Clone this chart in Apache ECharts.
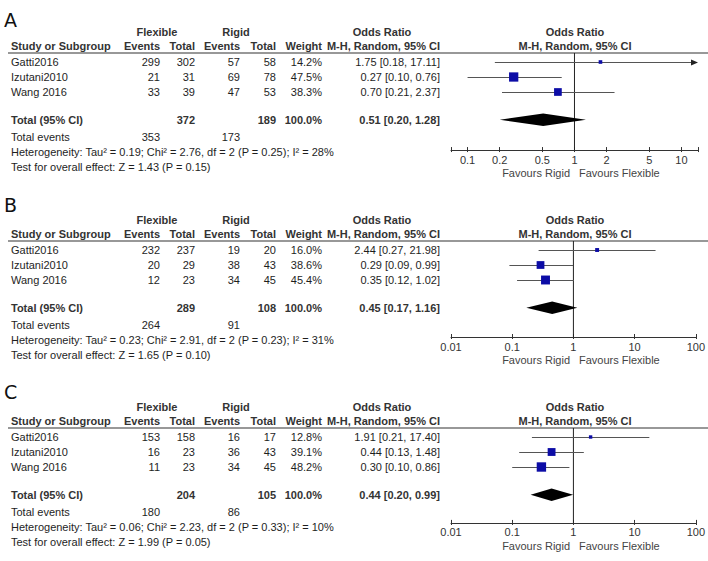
<!DOCTYPE html>
<html><head><meta charset="utf-8">
<script src="https://cdn.jsdelivr.net/npm/echarts@6/dist/echarts.min.js"></script>
<style>html,body{margin:0;padding:0;background:#fff}#c{width:708px;height:561px}</style>
</head><body><div id="c"></div>
<script>
// ---------------- DATA ----------------
const panelLabels = ['A', 'B', 'C'];
const studies = ['Gatti2016', 'Izutani2010', 'Wang 2016'];
const groupNames = ['Flexible', 'Rigid'];

// Panel A
const flexEventsA = [299, 21, 33];
const flexTotalA = [302, 31, 39];
const rigidEventsA = [57, 69, 47];
const rigidTotalA = [58, 78, 53];
const weightA = [14.2, 47.5, 38.3];
const orA = [1.75, 0.27, 0.70];
const loA = [0.18, 0.10, 0.21];
const hiA = [17.11, 0.76, 2.37];
const pooledA = [0.51, 0.20, 1.28];
const totalsA = [372, 189];
const totalEventsA = [353, 173];
const hetA = 'Heterogeneity: Tau² = 0.19; Chi² = 2.76, df = 2 (P = 0.25); I² = 28%';
const testA = 'Test for overall effect: Z = 1.43 (P = 0.15)';

// Panel B
const flexEventsB = [232, 20, 12];
const flexTotalB = [237, 29, 23];
const rigidEventsB = [19, 38, 34];
const rigidTotalB = [20, 43, 45];
const weightB = [16.0, 38.6, 45.4];
const orB = [2.44, 0.29, 0.35];
const loB = [0.27, 0.09, 0.12];
const hiB = [21.98, 0.99, 1.02];
const pooledB = [0.45, 0.17, 1.16];
const totalsB = [289, 108];
const totalEventsB = [264, 91];
const hetB = 'Heterogeneity: Tau² = 0.23; Chi² = 2.91, df = 2 (P = 0.23); I² = 31%';
const testB = 'Test for overall effect: Z = 1.65 (P = 0.10)';

// Panel C
const flexEventsC = [153, 16, 11];
const flexTotalC = [158, 23, 23];
const rigidEventsC = [16, 36, 34];
const rigidTotalC = [17, 43, 45];
const weightC = [12.8, 39.1, 48.2];
const orC = [1.91, 0.44, 0.30];
const loC = [0.21, 0.13, 0.10];
const hiC = [17.40, 1.48, 0.86];
const pooledC = [0.44, 0.20, 0.99];
const totalsC = [204, 105];
const totalEventsC = [180, 86];
const hetC = 'Heterogeneity: Tau² = 0.06; Chi² = 2.23, df = 2 (P = 0.33); I² = 10%';
const testC = 'Test for overall effect: Z = 1.99 (P = 0.05)';

const totalWeight = '100.0%';

// axis ticks (odds ratio scale)
const ticksA = [0.1, 0.2, 0.5, 1, 2, 5, 10];
const ticksBC = [0.01, 0.1, 1, 10, 100];
const axisRangeA = [0.07, 14.3];
const axisRangeBC = [0.01, 100];

// ---------------- BUILD ----------------
const panels = [
  {flexE: flexEventsA, flexT: flexTotalA, rigE: rigidEventsA, rigT: rigidTotalA, w: weightA, or: orA, lo: loA, hi: hiA, pooled: pooledA, totals: totalsA, tev: totalEventsA, het: hetA, test: testA, ticks: ticksA, range: axisRangeA},
  {flexE: flexEventsB, flexT: flexTotalB, rigE: rigidEventsB, rigT: rigidTotalB, w: weightB, or: orB, lo: loB, hi: hiB, pooled: pooledB, totals: totalsB, tev: totalEventsB, het: hetB, test: testB, ticks: ticksBC, range: axisRangeBC},
  {flexE: flexEventsC, flexT: flexTotalC, rigE: rigidEventsC, rigT: rigidTotalC, w: weightC, or: orC, lo: loC, hi: hiC, pooled: pooledC, totals: totalsC, tev: totalEventsC, het: hetC, test: testC, ticks: ticksBC, range: axisRangeBC}
];

// layout (pixels)
const layout = [
  {firstRowY: 62, axisRow: 5.87, letterDy: 33},
  {firstRowY: 250, axisRow: 5.8, letterDy: 36},
  {firstRowY: 437, axisRow: 5.73, letterDy: 36}
];
const ROW_H = 15, TOP_ROW = -0.6, TOTAL_ROW = 3.85;
const PLOT_LEFT = 451, PLOT_W = 247;
const FONT = "'Liberation Sans', Arial, sans-serif";
const TXT = '#1e1e1e', HDR = '#333';
const COL = {flexE: 160, flexT: 195, rigE: 240, rigT: 276, w: 322, or: 440};

const L10 = Math.log10;
const rowY = (p, r) => layout[p].firstRowY + r * ROW_H;

const grids = [], xAxes = [], yAxes = [], series = [], graphics = [];

function fmtOR(a, b, c) { return a.toFixed(2) + ' [' + b.toFixed(2) + ', ' + c.toFixed(2) + ']'; }
function txt(x, y, text, opt) {
  opt = opt || {};
  graphics.push({type: 'text', x: x, y: y, silent: true, style: {
    text: text, font: (opt.bold ? 'bold ' : '') + (opt.size || 11) + 'px ' + (opt.family || FONT),
    fill: opt.color || TXT, align: opt.align || 'left', verticalAlign: 'middle'}});
}

panels.forEach((P, p) => {
  const lay = layout[p];
  const top = rowY(p, TOP_ROW), bottom = rowY(p, lay.axisRow);
  const xmin = L10(P.range[0]), xmax = L10(P.range[1]);
  grids.push({left: PLOT_LEFT, width: PLOT_W, top: top, height: bottom - top});
  const tickVals = [xmin].concat(P.ticks.map(L10)).concat([xmax]);
  const labelVals = P.ticks.map(L10);
  const fmt = v => { const t = P.ticks.find(t => Math.abs(L10(t) - v) < 1e-6); return t === undefined ? '' : String(t); };
  xAxes.push({type: 'value', gridIndex: p, min: xmin, max: xmax, position: 'bottom',
    axisLine: {show: true, onZero: false, lineStyle: {color: '#333', width: 1}},
    axisTick: {show: true, inside: false, length: 2, customValues: tickVals, lineStyle: {color: '#333'}},
    axisLabel: {show: true, customValues: labelVals, formatter: fmt, margin: 4, fontSize: 11, fontFamily: FONT, color: '#333'},
    splitLine: {show: false}});
  xAxes.push({type: 'value', gridIndex: p, min: xmin, max: xmax, position: 'bottom',
    axisLine: {show: false, onZero: false},
    axisTick: {show: true, inside: true, length: 3, customValues: tickVals, lineStyle: {color: '#333'}},
    axisLabel: {show: false}, splitLine: {show: false}});
  yAxes.push({type: 'value', gridIndex: p, min: TOP_ROW, max: lay.axisRow, inverse: true, show: false});

  const xi = 2 * p;
  // line of no effect
  series.push({type: 'line', xAxisIndex: xi, yAxisIndex: p, data: [[0, TOP_ROW], [0, lay.axisRow]],
    symbol: 'none', silent: true, lineStyle: {color: '#222', width: 1}, z: 1});
  // studies
  const studyData = studies.map((s, i) => [L10(P.or[i]), L10(P.lo[i]), L10(P.hi[i]), i, P.w[i]]);
  series.push({type: 'custom', xAxisIndex: xi, yAxisIndex: p, data: studyData, silent: true, z: 3,
    encode: {x: 0, y: 3},
    renderItem: (params, api) => {
      const cs = params.coordSys;
      const x0 = cs.x, x1 = cs.x + cs.width;
      const c = api.coord([api.value(0), api.value(3)]);
      const lo = api.coord([api.value(1), api.value(3)]);
      const hi = api.coord([api.value(2), api.value(3)]);
      const y = Math.round(c[1]) + 0.5;
      const children = [];
      const lx = Math.max(lo[0], x0);
      let rx = Math.min(hi[0], x1);
      const clipR = hi[0] > x1;
      if (clipR) rx = x1 - 5;
      children.push({type: 'line', shape: {x1: lx, y1: y, x2: rx, y2: y}, style: {stroke: '#555', lineWidth: 1}});
      if (clipR) children.push({type: 'polygon', shape: {points: [[x1, y], [x1 - 7, y - 3], [x1 - 7, y + 3]]}, style: {fill: '#222'}});
      const s = 1.2 + 0.17 * api.value(4);
      children.push({type: 'rect', shape: {x: c[0] - s / 2, y: c[1] - s / 2, width: s, height: s}, style: {fill: '#0c0ca6'}});
      return {type: 'group', children: children};
    }});
  // pooled diamond
  series.push({type: 'custom', xAxisIndex: xi, yAxisIndex: p, silent: true, z: 3,
    encode: {x: 0, y: 3},
    data: [[L10(P.pooled[0]), L10(P.pooled[1]), L10(P.pooled[2]), TOTAL_ROW]],
    renderItem: (params, api) => {
      const c = api.coord([api.value(0), api.value(3)]);
      const lo = api.coord([api.value(1), api.value(3)]);
      const hi = api.coord([api.value(2), api.value(3)]);
      const h = 6.3;
      return {type: 'polygon', shape: {points: [[lo[0], c[1]], [c[0], c[1] - h], [hi[0], c[1]], [c[0], c[1] + h]]}, style: {fill: '#000'}};
    }});

  // ---- table text ----
  const lineY = rowY(p, TOP_ROW);
  graphics.push({type: 'line', silent: true, shape: {x1: 8, y1: lineY, x2: 708, y2: lineY}, style: {stroke: '#333', lineWidth: 1.2}});
  txt(4, lineY - lay.letterDy, panelLabels[p], {size: 19, family: "'DejaVu Sans', sans-serif", color: '#111'});
  const h1 = lineY - 21, h2 = lineY - 7;
  txt(157, h1, groupNames[0], {bold: true, color: HDR, align: 'center'});
  txt(236, h1, groupNames[1], {bold: true, color: HDR, align: 'center'});
  txt(382, h1, 'Odds Ratio', {bold: true, color: HDR, align: 'center'});
  txt(575, h1, 'Odds Ratio', {bold: true, color: HDR, align: 'center'});
  txt(11, h2, 'Study or Subgroup', {bold: true, color: HDR});
  txt(COL.flexE, h2, 'Events', {bold: true, color: HDR, align: 'right'});
  txt(COL.flexT, h2, 'Total', {bold: true, color: HDR, align: 'right'});
  txt(COL.rigE, h2, 'Events', {bold: true, color: HDR, align: 'right'});
  txt(COL.rigT, h2, 'Total', {bold: true, color: HDR, align: 'right'});
  txt(COL.w, h2, 'Weight', {bold: true, color: HDR, align: 'right'});
  txt(COL.or, h2, 'M-H, Random, 95% CI', {bold: true, color: HDR, align: 'right'});
  txt(575, h2, 'M-H, Random, 95% CI', {bold: true, color: HDR, align: 'center'});
  studies.forEach((s, i) => {
    const y = rowY(p, i);
    txt(11, y, s);
    txt(COL.flexE, y, String(P.flexE[i]), {align: 'right'});
    txt(COL.flexT, y, String(P.flexT[i]), {align: 'right'});
    txt(COL.rigE, y, String(P.rigE[i]), {align: 'right'});
    txt(COL.rigT, y, String(P.rigT[i]), {align: 'right'});
    txt(COL.w, y, P.w[i].toFixed(1) + '%', {align: 'right'});
    txt(COL.or, y, fmtOR(P.or[i], P.lo[i], P.hi[i]), {align: 'right'});
  });
  const ty = rowY(p, TOTAL_ROW);
  txt(11, ty, 'Total (95% CI)', {bold: true, color: HDR});
  txt(COL.flexT, ty, String(P.totals[0]), {bold: true, color: HDR, align: 'right'});
  txt(COL.rigT, ty, String(P.totals[1]), {bold: true, color: HDR, align: 'right'});
  txt(COL.w, ty, totalWeight, {bold: true, color: HDR, align: 'right'});
  txt(COL.or, ty, fmtOR(P.pooled[0], P.pooled[1], P.pooled[2]), {bold: true, color: HDR, align: 'right'});
  const ey = rowY(p, 5);
  txt(11, ey, 'Total events');
  txt(COL.flexE, ey, String(P.tev[0]), {align: 'right'});
  txt(COL.rigE, ey, String(P.tev[1]), {align: 'right'});
  txt(11, rowY(p, 6), P.het);
  txt(11, rowY(p, 7), P.test);
  const ay = rowY(p, lay.axisRow);
  txt(570, ay + 23, 'Favours Rigid', {align: 'right', color: '#444'});
  txt(579, ay + 23, 'Favours Flexible', {color: '#444'});
});

const chart = echarts.init(document.getElementById('c'), null, {renderer: 'svg', width: 708, height: 561});
chart.setOption({
  backgroundColor: '#fff',
  animation: false,
  grid: grids, xAxis: xAxes, yAxis: yAxes, series: series,
  graphic: graphics
});
</script></body></html>
